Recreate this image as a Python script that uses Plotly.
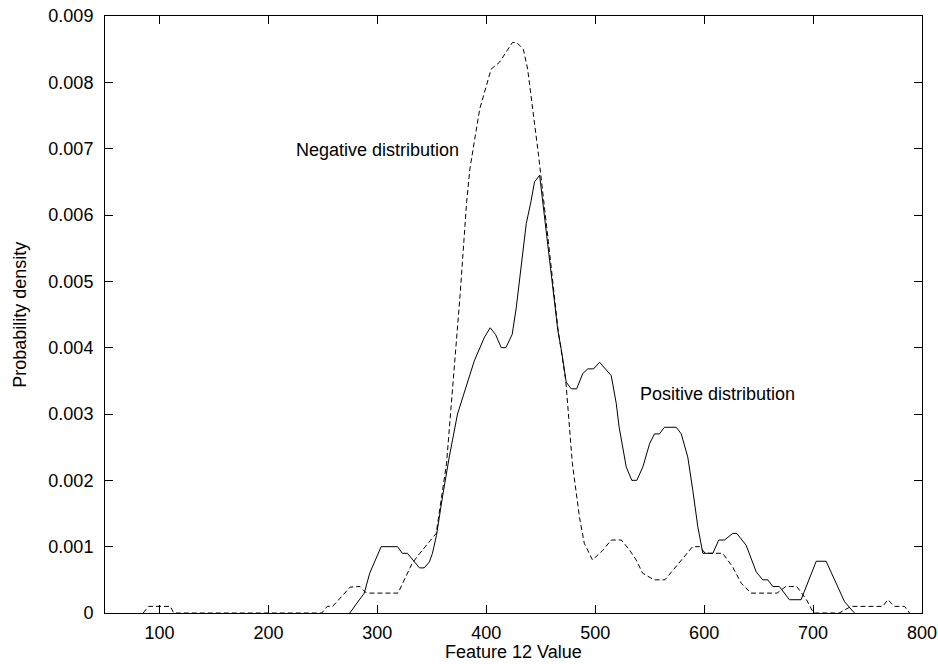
import plotly.graph_objects as go

# Negative distribution (dashed)
neg_x = [85, 90, 110, 113, 249, 254, 259, 275, 284, 290, 319, 332, 339, 354, 363.5, 369, 376, 382,
         385, 394, 404.5, 412, 424, 428, 434, 438, 444, 448, 457, 466, 473, 479, 485.6, 490, 497.5,
         506.7, 514.7, 524, 531.5, 537.6, 543.5, 550, 554, 564, 589.4, 596, 601, 617, 626, 634, 643,
         667, 675, 685, 694, 700.4, 724, 735, 764, 768.6, 774.8, 784, 788.6]
neg_y = [0, 0.0001, 0.0001, 0, 0, 0.0001, 0.0001, 0.00039, 0.0004, 0.0003, 0.0003, 0.00075, 0.0009,
         0.0012, 0.00225, 0.0034, 0.0048, 0.0062, 0.0067, 0.0076, 0.0082, 0.0083, 0.0086, 0.0086,
         0.0085, 0.0082, 0.0074, 0.0069, 0.0056, 0.00426, 0.0035, 0.00226, 0.00144, 0.00105, 0.0008,
         0.00094, 0.0011, 0.0011, 0.00095, 0.0008, 0.0006, 0.00054, 0.0005, 0.0005, 0.001, 0.001,
         0.0009, 0.0009, 0.0007, 0.00045, 0.0003, 0.0003, 0.0004, 0.0004, 0.0002, 0, 0, 0.0001,
         0.0001, 0.0002, 0.0001, 0.0001, 0]

# Positive distribution (solid)
pos_x = [274.7, 288, 293, 303.5, 318.5, 323, 327.6, 334, 338.7, 343, 347.8, 350.6, 354.3, 359.8, 366,
         373.6, 381.6, 389, 398.4, 403.6, 408.5, 413.7, 418, 423.8, 427.5, 432, 436.7, 441, 444.3,
         449, 457, 465.7, 469, 473.4, 478, 483, 488.6, 493.2, 498.5, 504, 514.7, 519.3, 522, 528.5,
         533.6, 538.2, 543.7, 549.9, 554.4, 559, 563.6, 574.4, 579, 585, 589.6, 594.2, 598.8, 608,
         613.4, 618.7, 626.3, 630, 638.6, 647.8, 653.8, 658.4, 663, 669, 678.3, 689, 702.9, 712,
         728.9, 738]
pos_y = [0, 0.0003, 0.0006, 0.001, 0.001, 0.0009, 0.0009, 0.00077, 0.00068, 0.00068, 0.00077, 0.0009,
         0.00117, 0.00175, 0.00235, 0.003, 0.0034, 0.0038, 0.00416, 0.0043, 0.0042, 0.004, 0.004,
         0.0042, 0.0046, 0.0052, 0.00587, 0.0062, 0.0065, 0.0066, 0.0055, 0.00426, 0.00396, 0.00348,
         0.00338, 0.00338, 0.00361, 0.00368, 0.00368, 0.00378, 0.00358, 0.00316, 0.0028, 0.0022,
         0.002, 0.002, 0.0022, 0.00255, 0.0027, 0.0027, 0.0028, 0.0028, 0.0027, 0.00235, 0.00185,
         0.0013, 0.0009, 0.0009, 0.0011, 0.0011, 0.0012, 0.0012, 0.00102, 0.00062, 0.0005, 0.0005,
         0.0004, 0.0004, 0.0002, 0.0002, 0.00078, 0.00078, 0.00017, 0]

x_ticks = [100, 200, 300, 400, 500, 600, 700, 800]
y_ticks = [0, 0.001, 0.002, 0.003, 0.004, 0.005, 0.006, 0.007, 0.008, 0.009]
y_tick_labels = ["0", "0.001", "0.002", "0.003", "0.004", "0.005", "0.006", "0.007", "0.008", "0.009"]

FONT = "Liberation Sans, Arial, Helvetica, sans-serif"
FS = 18

fig = go.Figure()
fig.add_trace(go.Scatter(x=neg_x, y=neg_y, mode="lines", name="Negative distribution",
                         line=dict(color="black", width=1, dash="5px,3px")))
fig.add_trace(go.Scatter(x=pos_x, y=pos_y, mode="lines", name="Positive distribution",
                         line=dict(color="black", width=1)))

fig.add_annotation(x=300, y=0.00698, text="Negative distribution", showarrow=False,
                   font=dict(family=FONT, size=FS, color="black"))
fig.add_annotation(x=612, y=0.0033, text="Positive distribution", showarrow=False,
                   font=dict(family=FONT, size=FS, color="black"))

# axis titles
fig.add_annotation(xref="paper", yref="paper", x=0.5, y=-0.0835, xanchor="center", yanchor="bottom",
                   text="Feature 12 Value", showarrow=False, borderpad=0,
                   font=dict(family=FONT, size=FS, color="black"))
fig.add_annotation(xref="paper", yref="paper", x=-0.105, y=0.5, xanchor="center", yanchor="middle",
                   text="Probability density", textangle=-90, showarrow=False,
                   font=dict(family=FONT, size=FS, color="black"))

fig.update_layout(
    width=938, height=664,
    margin=dict(l=105, r=16, t=16, b=51, autoexpand=False),
    paper_bgcolor="white", plot_bgcolor="white",
    showlegend=False,
    font=dict(family=FONT, size=FS, color="black"),
    xaxis=dict(range=[50, 800], tickvals=x_ticks, ticks="inside", ticklen=8, tickcolor="black",
               showline=True, linecolor="black", linewidth=1, mirror="ticks", showgrid=False,
               zeroline=False, ticklabelstandoff=3, automargin=False,
               tickfont=dict(size=FS)),
    yaxis=dict(range=[0, 0.009], tickvals=y_ticks, ticktext=y_tick_labels, ticks="inside",
               ticklen=8, tickcolor="black", showline=True, linecolor="black", linewidth=1,
               mirror="ticks", showgrid=False, zeroline=False, ticklabelstandoff=7, automargin=False,
               tickfont=dict(size=FS)),
)

fig.write_html("out.html")
